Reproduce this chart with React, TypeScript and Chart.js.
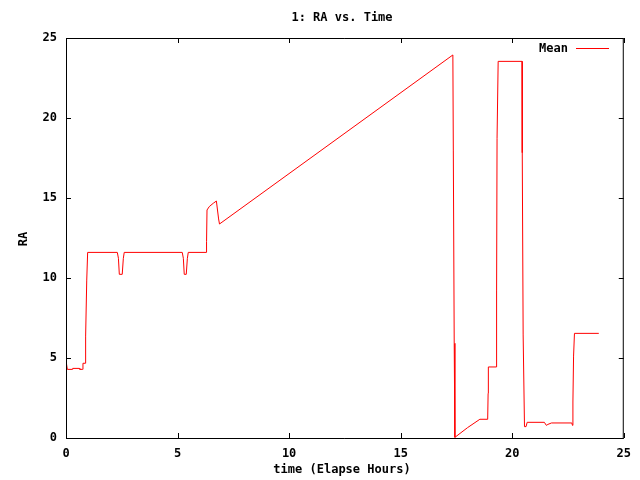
import React, { useEffect, useRef } from "react";
import { Chart, registerables } from "chart.js";

Chart.register(...registerables);

const chartTitle = "1: RA vs. Time";
const xAxisTitle = "time (Elapse Hours)";
const yAxisTitle = "RA";
const seriesLabel = "Mean";

const timeHours = [
  0, 0.01, 0.06, 0.28, 0.3, 0.6, 0.62, 0.73, 0.76, 0.86, 0.88, 0.93, 0.97,
  2.3, 2.35, 2.39, 2.52, 2.57, 2.61, 5.21, 5.26, 5.3, 5.39, 5.44, 5.48,
  6.28, 6.3, 6.32, 6.42, 6.6, 6.74, 6.84, 6.88, 17.34, 17.36, 17.4, 17.43,
  18.0, 18.55, 18.9, 18.92, 18.93, 19.29, 19.3, 19.32, 19.37, 20.44, 20.45,
  20.49, 20.55, 20.62, 20.67, 21.44, 21.53, 21.6, 21.76, 22.67, 22.7, 22.72,
  22.75, 22.79, 23.88,
];
const raMean = [
  5.6, 4.75, 4.29, 4.29, 4.35, 4.35, 4.29, 4.29, 4.67, 4.67, 6.37, 9.87, 11.6,
  11.6, 11.23, 10.23, 10.23, 11.23, 11.6, 11.6, 11.23, 10.23, 10.23, 11.23, 11.6,
  11.6, 12.27, 14.25, 14.46, 14.67, 14.81, 13.69, 13.375, 23.94, 17.94, 5.92, 0.04,
  0.65, 1.17, 1.17, 2.79, 4.44, 4.44, 9.19, 18.73, 23.54, 23.54, 17.83,
  6.44, 0.71, 0.71, 0.98, 0.98, 0.79, 0.85, 0.94, 0.94, 0.79, 2.25,
  5.12, 6.54, 6.54,
];
const xTicks = [0, 5, 10, 15, 20, 25];
const yTicks = [0, 5, 10, 15, 20, 25];

const FONT = "bold 12px 'DejaVu Sans Mono', monospace";

const gnuplotFrame = {
  id: "gnuplotFrame",
  afterDraw(chart: any) {
    const { ctx, chartArea } = chart;
    const { left, right, top, bottom } = chartArea;
    const xs = chart.scales.x;
    const ys = chart.scales.y;
    ctx.save();
    ctx.strokeStyle = "#000";
    ctx.lineWidth = 1;
    ctx.beginPath();
    ctx.rect(left + 0.5, top + 0.5, right - left - 1, bottom - top);
    const tl = 5;
    xs.ticks.forEach((t: any) => {
      const px = Math.round(xs.getPixelForValue(t.value)) + 0.5;
      ctx.moveTo(px, bottom);
      ctx.lineTo(px, bottom - tl);
      ctx.moveTo(px, top);
      ctx.lineTo(px, top + tl);
    });
    ys.ticks.forEach((t: any) => {
      const py = Math.round(ys.getPixelForValue(t.value)) + 0.5;
      ctx.moveTo(left, py);
      ctx.lineTo(left + tl, py);
      ctx.moveTo(right, py);
      ctx.lineTo(right - tl, py);
    });
    ctx.stroke();

    ctx.fillStyle = "#000";
    ctx.font = FONT;
    ctx.textBaseline = "middle";
    ctx.textAlign = "center";
    ctx.fillText(chartTitle, 342, 18);
    ctx.fillText(xAxisTitle, 342, 470);
    ctx.save();
    ctx.translate(24, 239);
    ctx.rotate(-Math.PI / 2);
    ctx.fillText(yAxisTitle, 0, 0);
    ctx.restore();

    ctx.textAlign = "right";
    ctx.fillText(seriesLabel, 568, 49);
    ctx.strokeStyle = "#ff0000";
    ctx.beginPath();
    ctx.moveTo(576, 48.5);
    ctx.lineTo(609, 48.5);
    ctx.stroke();
    ctx.restore();
  },
};

export default function App() {
  const ref = useRef<HTMLCanvasElement>(null);
  useEffect(() => {
    if (!ref.current) return;
    const data = timeHours.map((t, i) => ({ x: t, y: raMean[i] }));
    const chart = new Chart(ref.current, {
      type: "line",
      data: {
        datasets: [
          {
            label: seriesLabel,
            data,
            borderColor: "#ff0000",
            borderWidth: 1,
            pointRadius: 0,
            tension: 0,
            fill: false,
          },
        ],
      },
      options: {
        animation: false,
        responsive: false,
        devicePixelRatio: 1,
        layout: { padding: { left: 0, top: 38, right: 16, bottom: 0 } },
        plugins: {
          legend: { display: false },
          title: { display: false },
          tooltip: { enabled: false },
        },
        scales: {
          x: {
            type: "linear",
            min: 0,
            max: 25,
            afterBuildTicks: (s: any) => {
              s.ticks = xTicks.map((v) => ({ value: v }));
            },
            afterFit: (s: any) => {
              s.height = 42;
            },
            grid: { display: false, drawTicks: false },
            border: { display: false },
            ticks: {
              color: "#000",
              font: { family: "'DejaVu Sans Mono', monospace", size: 12, weight: "bold" },
              padding: 9,
              maxRotation: 0,
            },
          },
          y: {
            type: "linear",
            min: 0,
            max: 25,
            afterBuildTicks: (s: any) => {
              s.ticks = yTicks.map((v) => ({ value: v }));
            },
            afterFit: (s: any) => {
              s.width = 66;
            },
            grid: { display: false, drawTicks: false },
            border: { display: false },
            ticks: {
              color: "#000",
              font: { family: "'DejaVu Sans Mono', monospace", size: 12, weight: "bold" },
              padding: 9,
            },
          },
        },
      },
      plugins: [gnuplotFrame],
    });
    return () => chart.destroy();
  }, []);
  return (
    <div style={{ position: "fixed", left: 0, top: 0, width: 640, height: 480, background: "#fff" }}>
      <canvas ref={ref} width={640} height={480} style={{ display: "block" }} />
    </div>
  );
}
